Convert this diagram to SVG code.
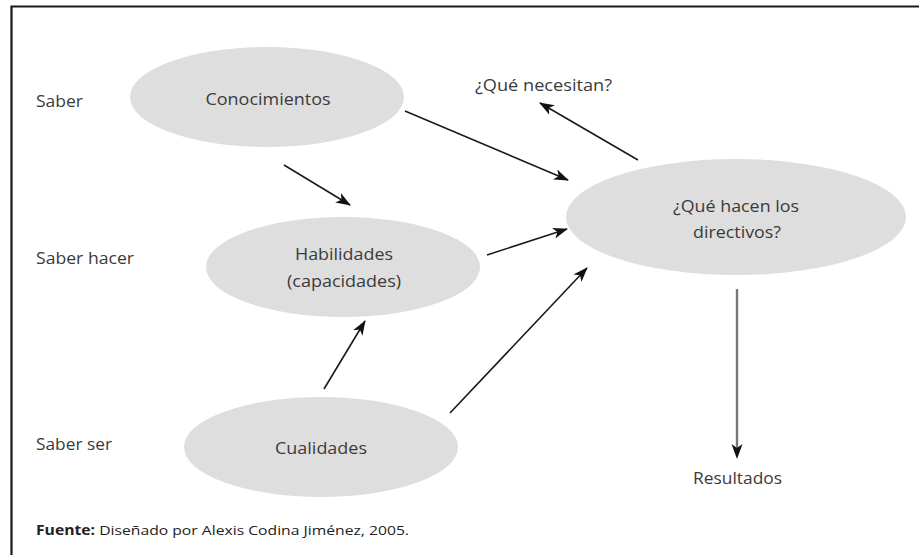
<svg xmlns="http://www.w3.org/2000/svg" width="919" height="555" viewBox="0 0 919 555">
<style>
.node ellipse{fill:#dedede}
.t{font-family:"Open Sans","Liberation Sans",sans-serif;font-size:17px;fill:#3a3a3a}
.c{text-anchor:middle}
.edge{stroke:#1a1a1a;stroke-width:1.6;fill:none;marker-end:url(#ah)}
</style>
<defs>
<marker id="ah" viewBox="0 0 15 11" refX="14" refY="5.5" markerWidth="15" markerHeight="11" markerUnits="userSpaceOnUse" orient="auto">
<path d="M0,0 L15,5.5 L0,11 L4,5.5 Z" fill="#111"/>
</marker>
</defs>
<rect width="919" height="555" fill="#fff"/>
<path d="M11.5,555 V6.5 H919" fill="none" stroke="#1a1a1a" stroke-width="2.2"/>

<g id="labels">
<text class="t" x="36" y="107" textLength="47" lengthAdjust="spacingAndGlyphs">Saber</text>
<text class="t" x="36" y="264" textLength="98" lengthAdjust="spacingAndGlyphs">Saber hacer</text>
<text class="t" x="36" y="450" textLength="76" lengthAdjust="spacingAndGlyphs">Saber ser</text>
</g>

<g id="n-conocimientos" class="node">
<ellipse cx="267" cy="97" rx="137" ry="50"/>
<text class="t c" x="268" y="105" textLength="125" lengthAdjust="spacingAndGlyphs">Conocimientos</text>
</g>
<g id="n-habilidades" class="node">
<ellipse cx="343" cy="267" rx="137" ry="50"/>
<text class="t c" x="344" y="260" textLength="98" lengthAdjust="spacingAndGlyphs">Habilidades</text>
<text class="t c" x="344" y="287" textLength="114" lengthAdjust="spacingAndGlyphs">(capacidades)</text>
</g>
<g id="n-cualidades" class="node">
<ellipse cx="321" cy="447" rx="137" ry="50"/>
<text class="t c" x="321" y="454" textLength="92" lengthAdjust="spacingAndGlyphs">Cualidades</text>
</g>
<g id="n-directivos" class="node">
<ellipse cx="736" cy="217" rx="170" ry="58"/>
<text class="t c" x="736" y="212" textLength="126" lengthAdjust="spacingAndGlyphs">¿Qué hacen los</text>
<text class="t c" x="737" y="238" textLength="88" lengthAdjust="spacingAndGlyphs">directivos?</text>
</g>
<g id="n-necesitan">
<text class="t" x="475" y="91" textLength="137" lengthAdjust="spacingAndGlyphs">¿Qué necesitan?</text>
</g>
<g id="n-resultados">
<text class="t" x="693" y="484" textLength="89" lengthAdjust="spacingAndGlyphs">Resultados</text>
</g>

<g id="connectors">
<line class="edge" x1="405" y1="111" x2="568" y2="180"/>
<line class="edge" x1="284" y1="165" x2="350" y2="205"/>
<line class="edge" x1="487" y1="255" x2="567" y2="229"/>
<line class="edge" x1="324" y1="389" x2="365" y2="321"/>
<line class="edge" x1="450" y1="413" x2="587" y2="268"/>
<line class="edge" x1="638" y1="160" x2="540" y2="103"/>
<line x1="737" y1="289" x2="737" y2="450" stroke="#777" stroke-width="2.4"/>
<path d="M731.5,444 L737,459 L742.5,444 L737,448 Z" fill="#111"/>
</g>

<g id="source">
<text x="36" y="535" font-family="'Open Sans','Liberation Sans',sans-serif" font-size="13.5" fill="#222" textLength="373" lengthAdjust="spacingAndGlyphs"><tspan font-weight="bold">Fuente:</tspan> Diseñado por Alexis Codina Jiménez, 2005.</text>
</g>
</svg>
